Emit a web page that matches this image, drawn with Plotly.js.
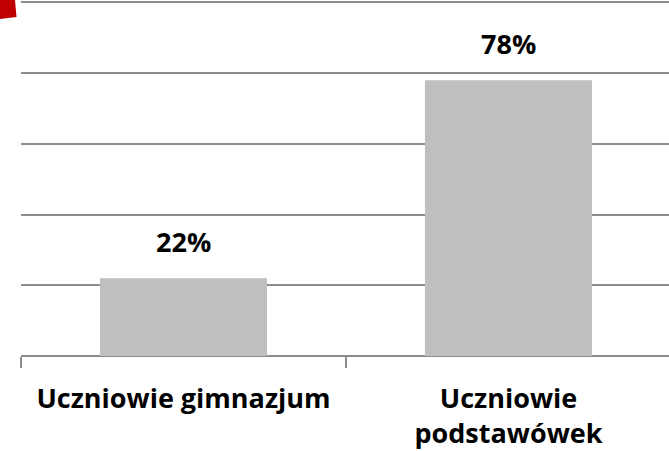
<!DOCTYPE html>
<html>
<head>
<meta charset="utf-8">
<script src="https://cdn.plot.ly/plotly-3.0.1.min.js"></script>
<style>html,body{margin:0;padding:0;background:#fff;}#chart{width:669px;height:451px;}</style>
</head>
<body>
<div id="chart"></div>
<script>
const categories = ["Uczniowie gimnazjum", "Uczniowie<br>podstawówek"];
const values = [22, 78];
const valueLabels = ["22%", "78%"];
const yTicks = [0, 20, 40, 60, 80, 100];

const FONT = "'Open Sans', 'Noto Sans', sans-serif";

const trace = {
  type: "bar",
  x: categories,
  y: values,
  marker: { color: "#bfbfbf", line: { width: 0 } },
  hoverinfo: "none"
};

const annotations = categories.map((c, i) => ({
  x: c, y: values[i], xref: "x", yref: "y",
  text: "<b>" + valueLabels[i] + "</b>",
  showarrow: false, yanchor: "bottom", yshift: 16,
  font: { family: FONT, size: 27, color: "#000" }
}));

const layout = {
  width: 669, height: 451,
  margin: { l: 21, r: 0, t: 1, b: 95, pad: 0 },
  paper_bgcolor: "#fff", plot_bgcolor: "#fff",
  showlegend: false,
  bargap: 0.486,
  xaxis: {
    type: "category",
    range: [-0.5, 1.494],
    tickson: "boundaries",
    ticks: "outside", ticklen: 11, tickwidth: 1.5, tickcolor: "#8c8c8c",
    showgrid: false, showline: false, zeroline: false,
    tickfont: { family: FONT, size: 27, color: "#000", weight: "bold" },
    ticklabelstandoff: 24
  },
  yaxis: {
    range: [0, 100.4],
    tickvals: yTicks,
    showticklabels: false,
    showgrid: true, gridcolor: "#8c8c8c", gridwidth: 2,
    zeroline: true, zerolinecolor: "#8c8c8c", zerolinewidth: 2,
    showline: false, ticks: ""
  },
  annotations: annotations,
  shapes: [{
    type: "path", xref: "paper", yref: "paper",
    xsizemode: "pixel", ysizemode: "pixel", xanchor: 0, yanchor: 1,
    path: "M -21,1 L -6,1 L -4.5,-16 L -21,-18 Z",
    fillcolor: "#c00000", line: { width: 0 }
  }]
};

Plotly.newPlot("chart", [trace], layout, { staticPlot: true, displayModeBar: false });
</script>
</body>
</html>
